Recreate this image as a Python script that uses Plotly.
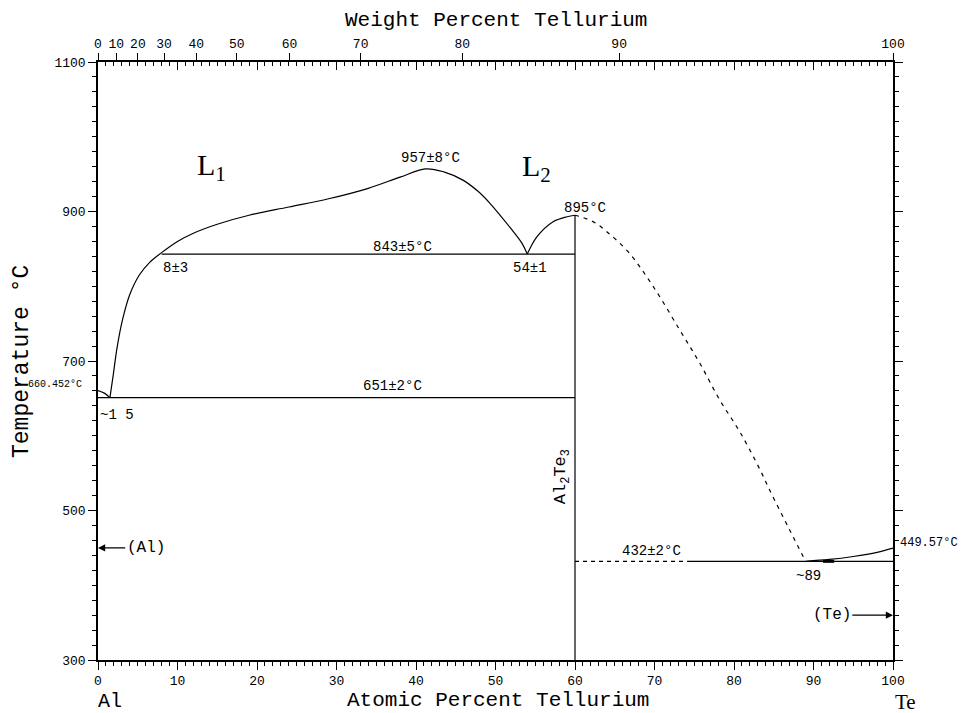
import plotly.graph_objects as go

# ---------------- data (atomic % Te, temperature °C) ----------------
al_liq_x = [0, 0.8, 1.5]
al_liq_y = [660.452, 657, 651]

l1_liq_x = [1.5, 1.9, 2.4, 3.1, 4.0, 5.2, 6.5, 8.0, 10, 12, 15, 19, 24, 29, 34, 38, 41.2,
            43.5, 45.9, 47.8, 49.3, 51.8, 53.3, 54.0]
l1_liq_y = [651, 680, 718, 756, 789, 815, 832, 845, 860, 871, 883, 895, 906, 917, 931, 946, 957,
            953, 942, 927, 911, 879, 858, 843]

l2_liq_x = [54.0, 55.2, 57.2, 59.0, 60.0]
l2_liq_y = [843, 866, 886, 893, 895]

dash_liq_x = [60, 61, 62.5, 64, 66.7, 70, 73.2, 75.7, 78.2, 80.8, 83.3, 84.5, 87, 89]
dash_liq_y = [895, 892, 885, 873, 846, 797, 741, 697, 648, 604, 554, 527, 474, 432]

te_liq_x = [89, 92, 95, 98, 100]
te_liq_y = [432, 434.5, 438.5, 444, 449.57]

mono_x = [8, 60]
mono_T = 843
eut1_x = [0, 60]
eut1_T = 651
eut2_dash_x = [60, 74.2]
eut2_solid_x = [74.2, 100]
eut2_T = 432
cmpd_x = 60
cmpd_T = [300, 895]

at_ticks = [0, 10, 20, 30, 40, 50, 60, 70, 80, 90, 100]
temp_ticks = [300, 500, 700, 900, 1100]
wt_labels = [0, 10, 20, 30, 40, 50, 60, 70, 80, 90, 100]

M_AL = 26.9815
M_TE = 127.60


def wt_to_at(w):
    if w >= 100:
        return 100.0
    a = w / M_TE
    b = (100 - w) / M_AL
    return 100 * a / (a + b)


wt_pos = [wt_to_at(w) for w in wt_labels]

# ---------------- figure ----------------
BLACK = "#000000"
MONO = "Liberation Mono"
SERIF = "Liberation Serif"
fig = go.Figure()


def line(x, y, dash="solid", width=1.2, smooth=1.0):
    fig.add_trace(go.Scatter(x=x, y=y, mode="lines", line=dict(color=BLACK, width=width, dash=dash,
                                                             shape="spline", smoothing=smooth),
                             hoverinfo="skip", showlegend=False))


line(al_liq_x, al_liq_y)
line(l1_liq_x, l1_liq_y)
line(l2_liq_x, l2_liq_y)
line(dash_liq_x, dash_liq_y, dash="4px,5px")
line(te_liq_x, te_liq_y)
line(mono_x, [mono_T] * 2)
line(eut1_x, [eut1_T] * 2)
line(eut2_dash_x, [eut2_T] * 2, dash="4px,4px")
line(eut2_solid_x, [eut2_T] * 2)
line([cmpd_x, cmpd_x], cmpd_T)
# small thick mark near ~89 (solubility)
line([91.2, 92.6], [eut2_T, eut2_T], width=3)

axis_common = dict(range=[0, 100], showgrid=False, zeroline=False, showline=True,
                   linecolor=BLACK, linewidth=1.5)

fig.update_layout(
    width=970, height=713,
    margin=dict(l=98, r=77, t=62, b=53),
    plot_bgcolor="white", paper_bgcolor="white",
    xaxis=dict(**axis_common, tickvals=at_ticks, ticks="outside", ticklen=8, tickwidth=1.3,
               tickcolor=BLACK, minor=dict(dtick=1, ticks="outside", ticklen=4, tickcolor=BLACK),
               tickfont=dict(family=MONO, size=13, color=BLACK)),
    xaxis2=dict(**axis_common, overlaying="x", side="top", tickvals=at_ticks, ticks="inside",
                ticklen=8, tickwidth=1.3, tickcolor=BLACK, showticklabels=False,
                minor=dict(dtick=1, ticks="inside", ticklen=4, tickcolor=BLACK)),
    xaxis3=dict(range=[0, 100], overlaying="x", side="top", showgrid=False, zeroline=False,
                showline=False, tickvals=wt_pos, ticktext=[str(w) for w in wt_labels],
                ticks="outside", ticklen=8, tickwidth=1.3, tickcolor=BLACK,
                tickfont=dict(family=MONO, size=13, color=BLACK)),
    yaxis=dict(range=[300, 1100], showgrid=False, zeroline=False, showline=True, linecolor=BLACK,
               linewidth=1.5, tickvals=temp_ticks, ticks="outside", ticklen=8, tickwidth=1.3,
               tickcolor=BLACK, minor=dict(dtick=20, ticks="outside", ticklen=4, tickcolor=BLACK),
               tickfont=dict(family=MONO, size=13, color=BLACK)),
    yaxis2=dict(range=[300, 1100], overlaying="y", side="right", showgrid=False, zeroline=False,
                showline=True, linecolor=BLACK, linewidth=1.5, tickvals=temp_ticks, ticks="outside",
                ticklen=8, tickwidth=1.3, tickcolor=BLACK, showticklabels=False,
                minor=dict(dtick=20, ticks="outside", ticklen=4, tickcolor=BLACK)),
)
# dummy traces to activate the extra axes
fig.add_trace(go.Scatter(x=[0], y=[300], xaxis="x2", yaxis="y2", mode="markers",
                         marker=dict(opacity=0), hoverinfo="skip", showlegend=False))
fig.add_trace(go.Scatter(x=[0], y=[300], xaxis="x3", yaxis="y", mode="markers",
                         marker=dict(opacity=0), hoverinfo="skip", showlegend=False))

ann = []


def txt(x, y, s, size=14, family=MONO, xref="x", yref="y", angle=0, xanchor="center"):
    ann.append(dict(x=x, y=y, xref=xref, yref=yref, text=s, showarrow=False, textangle=angle,
                    xanchor=xanchor, yanchor="middle", font=dict(family=family, size=size, color=BLACK)))


# axis titles
txt(0.5, 1.0702, "Weight Percent Tellurium", size=21, xref="paper", yref="paper")
txt(0.503, -0.0669, "Atomic Percent Tellurium", size=21, xref="paper", yref="paper")
txt(-0.0956, 0.5, "Temperature °C", size=23, xref="paper", yref="paper", angle=-90)
txt(0.0145, -0.0702, "Al", size=20, xref="paper", yref="paper")
txt(1.016, -0.0702, "Te", size=21, family=SERIF, xref="paper", yref="paper")

# labels
txt(14.3, 960, "L<sub>1</sub>", size=30, family=SERIF)
txt(55.2, 958, "L<sub>2</sub>", size=30, family=SERIF)
txt(41.8, 972, "957±8°C", size=14)
txt(61.2, 905, "895°C", size=14)
txt(38.3, 853, "843±5°C", size=14)
txt(9.8, 825, "8±3", size=14)
txt(54.3, 825, "54±1", size=14)
txt(37.1, 667, "651±2°C", size=14)
txt(-0.054, 0.46, "660.452°C", size=10, xref="paper", yref="paper")
txt(2.4, 628, "~1 5", size=14)
txt(69.6, 446, "432±2°C", size=14)
txt(89.4, 413, "~89", size=14)
txt(1.0063, 0.1957, "449.57°C", size=12, xref="paper", yref="paper", xanchor="left")
txt(58.4, 545, "Al<sub>2</sub>Te<sub>3</sub>", size=17, family=MONO, angle=-90)

# phase arrows
ann.append(dict(x=0, y=450, ax=6.0, ay=450, axref="x", ayref="y", xref="x", yref="y",
                text="(Al)", showarrow=True, arrowhead=2, arrowsize=1.2, arrowwidth=1.2,
                arrowcolor=BLACK, standoff=0, font=dict(family=MONO, size=16, color=BLACK)))
ann.append(dict(x=100, y=360, ax=92.3, ay=360, axref="x", ayref="y", xref="x", yref="y",
                text="(Te)", showarrow=True, arrowhead=2, arrowsize=1.2, arrowwidth=1.2,
                arrowcolor=BLACK, standoff=0, font=dict(family=MONO, size=16, color=BLACK)))

fig.update_layout(annotations=ann)
fig.write_html("out.html")
